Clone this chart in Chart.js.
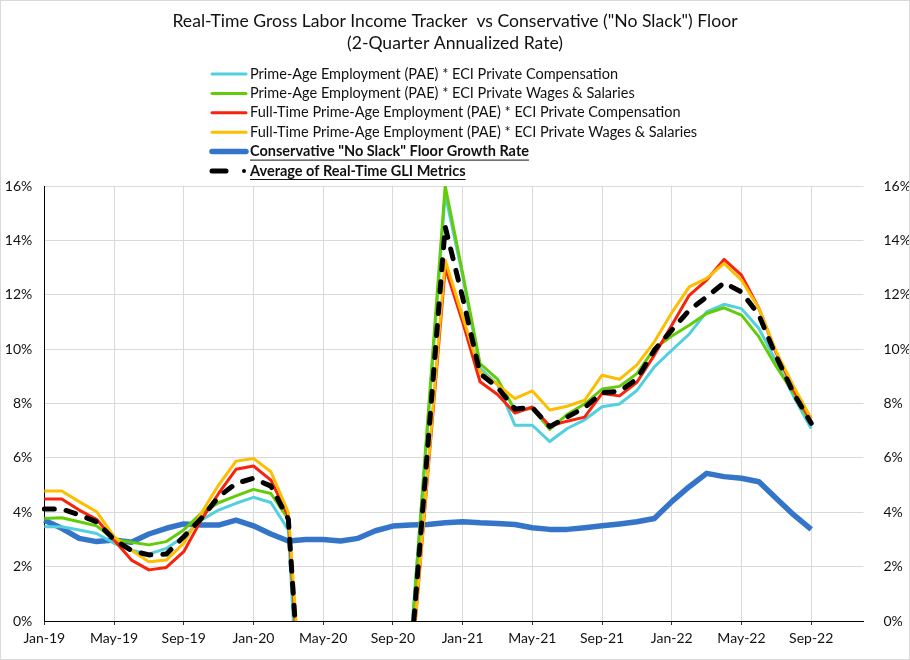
<!DOCTYPE html>
<html>
<head>
<meta charset="utf-8">
<script src="https://cdn.jsdelivr.net/npm/chart.js"></script>
<style>
  body { margin: 0; background: #fff; }
  #wrap { position: absolute; left: 0; top: 0; width: 908px; height: 658px; border: 1px solid #d9d9d9; }
  canvas { display: block; }
</style>
</head>
<body>
<div id="wrap"><canvas id="chart" width="908" height="658"></canvas></div>
<script>
// month labels Jan-19 .. Dec-22 (axis runs 3 months past the last point)
const months = ["Jan","Feb","Mar","Apr","May","Jun","Jul","Aug","Sep","Oct","Nov","Dec"];
const years = ["19","20","21","22"];
const labels = [];
years.forEach(y => months.forEach(m => labels.push(m + "-" + y)));

const titleLines = ['Real-Time Gross Labor Income Tracker  vs Conservative ("No Slack") Floor', '(2-Quarter Annualized Rate)'];

// values in % (Apr-20 .. Oct-20 fall below the axis)
const paeComp = [3.47,3.47,3.35,3.22,2.86,2.60,2.46,2.67,3.10,3.71,4.08,4.33,4.55,4.36,3.35,-8.3,
  null,null,null,null,null,-1.0,7.2,15.7,12.7,9.3,8.7,7.2,7.2,6.6,7.08,7.4,7.88,7.98,8.48,9.35,
  9.96,10.55,11.37,11.65,11.49,10.76,9.53,8.25,7.08];
const paeWages = [3.77,3.80,3.65,3.50,3.00,2.90,2.80,2.92,3.35,3.96,4.35,4.60,4.84,4.69,3.75,-6.5,
  null,null,null,null,null,-1.2,7.4,16.0,12.8,9.47,8.9,7.76,7.82,7.05,7.6,7.98,8.53,8.63,9.1,10.02,
  10.48,10.88,11.31,11.52,11.25,10.45,9.35,8.37,7.25];
const ftComp = [4.49,4.49,4.08,3.74,2.98,2.24,1.88,1.97,2.55,3.71,4.69,5.58,5.70,5.18,3.85,-6.0,
  null,null,null,null,null,-2.2,5.4,13.0,11.0,8.8,8.33,7.65,7.87,7.17,7.35,7.5,8.37,8.28,8.78,9.78,
  10.88,11.98,12.54,13.3,12.72,11.5,9.84,8.49,7.33];
const ftWages = [4.78,4.78,4.39,4.02,3.10,2.60,2.18,2.24,2.86,3.96,5.00,5.88,5.98,5.49,4.00,-5.0,
  null,null,null,null,null,-2.2,5.5,13.27,11.2,9.17,8.7,8.18,8.46,7.76,7.9,8.12,9.04,8.89,9.42,10.27,
  11.34,12.29,12.6,13.15,12.54,11.5,9.9,8.62,7.45];
const floorRate = [3.71,3.41,3.04,2.92,2.98,2.90,3.20,3.41,3.57,3.53,3.53,3.71,3.50,3.20,2.94,3.00,
  3.00,2.94,3.04,3.32,3.49,3.53,3.55,3.61,3.65,3.61,3.59,3.55,3.43,3.37,3.37,3.43,3.50,3.57,3.65,3.77,
  4.39,4.94,5.43,5.31,5.25,5.12,4.51,3.90,3.37];
const avgGli = [4.12,4.12,3.90,3.65,3.00,2.59,2.43,2.46,3.10,3.77,4.57,5.06,5.25,4.96,3.75,-6.0,
  null,null,null,null,null,-1.6,6.4,14.5,11.9,9.1,8.6,7.8,7.85,7.15,7.5,7.85,8.4,8.45,8.9,9.96,
  10.7,11.43,11.92,12.44,12.1,11.25,9.72,8.37,7.27];

const yTicks = [0,2,4,6,8,10,12,14,16];

const FONT = "Lato, 'Liberation Sans', sans-serif";

const legendItems = [
  {text:"Prime-Age Employment (PAE) * ECI Private Compensation", color:"#52d0de", width:3},
  {text:"Prime-Age Employment (PAE) * ECI Private Wages & Salaries", color:"#62cc0a", width:3},
  {text:"Full-Time Prime-Age Employment (PAE) * ECI Private Compensation", color:"#f8230c", width:3},
  {text:"Full-Time Prime-Age Employment (PAE) * ECI Private Wages & Salaries", color:"#fdbd00", width:3},
  {text:'Conservative "No Slack" Floor Growth Rate', color:"#3575c9", width:5.5, bold:true},
  {text:"Average of Real-Time GLI Metrics", color:"#000", width:5, bold:true, dashed:true}
];

// title + legend drawn by hand (two of the legend rows are bold and underlined)
const headerPlugin = {
  id: "header",
  afterDraw(chart){
    const c = chart.ctx;
    c.save();
    c.fillStyle = "#111";
    c.textAlign = "center";
    c.textBaseline = "middle";
    c.font = "17.6px " + FONT;
    c.fillText(titleLines[0], chart.width/2, 20);
    c.fillText(titleLines[1], chart.width/2, 42);

    c.textAlign = "left";
    legendItems.forEach((it, i) => {
      const y = 73 + i*19.4;
      c.strokeStyle = it.color;
      c.lineWidth = it.width;
      c.lineCap = "round";
      c.beginPath();
      if(it.dashed){
        c.moveTo(211, y); c.lineTo(225, y);
        c.stroke();
        c.fillStyle = "#000";
        c.beginPath(); c.arc(243, y, 2, 0, Math.PI*2); c.fill();
      }else{
        c.moveTo(211, y); c.lineTo(245, y);
        c.stroke();
      }
      c.fillStyle = "#111";
      c.font = (it.bold ? "bold " : "") + "14.5px " + FONT;
      c.fillText(it.text, 249, y);
      if(it.bold){
        const w = c.measureText(it.text).width;
        c.strokeStyle = "#111";
        c.lineWidth = 1;
        c.lineCap = "butt";
        c.beginPath(); c.moveTo(249, y+8.5); c.lineTo(249+w, y+8.5); c.stroke();
      }
    });
    c.restore();
  }
};

function line(label, data, color, width, order, dash){
  return {
    label, data, borderColor: color, backgroundColor: color, borderWidth: width,
    pointRadius: 0, tension: 0, order, yAxisID: "y",
    borderDash: dash || [], borderCapStyle: dash ? "round" : "butt", borderJoinStyle: "round"
  };
}

new Chart(document.getElementById("chart"), {
  type: "line",
  data: {
    labels: labels,
    datasets: [
      line(legendItems[4].text, floorRate, legendItems[4].color, 5.5, 6),
      line(legendItems[0].text, paeComp, legendItems[0].color, 3, 5),
      line(legendItems[1].text, paeWages, legendItems[1].color, 3, 4),
      line(legendItems[2].text, ftComp, legendItems[2].color, 3, 3),
      line(legendItems[3].text, ftWages, legendItems[3].color, 3, 2),
      line(legendItems[5].text, avgGli, "#000", 5, 1, [10, 12])
    ]
  },
  options: {
    responsive: false,
    animation: false,
    events: [],
    layout: { padding: { top: 185, left: 0, right: 0, bottom: 0 } },
    plugins: { legend: { display: false }, title: { display: false }, tooltip: { enabled: false } },
    scales: {
      x: {
        type: "category",
        offset: false,
        grid: {
          color: ctx => ctx.index % 4 === 0 ? "#d9d9d9" : "rgba(0,0,0,0)",
          tickColor: ctx => ctx.index % 4 === 0 ? "#333" : "rgba(0,0,0,0)",
          tickLength: 4
        },
        border: { color: "#000", width: 1 },
        ticks: {
          autoSkip: false, maxRotation: 0, minRotation: 0, padding: 5,
          font: { family: FONT, size: 14 }, color: "#111",
          callback: (v, i) => i % 4 === 0 ? labels[i] : ""
        },
        afterFit: s => { s.height = 38; }
      },
      y: {
        position: "left", min: 0, max: 16,
        afterBuildTicks: s => { s.ticks = yTicks.map(v => ({value: v})); },
        ticks: { padding: 12, font: { family: FONT, size: 14 }, color: "#111", callback: v => v + "%" },
        grid: { color: "#d9d9d9", drawTicks: false },
        border: { color: "#000", width: 1 },
        afterFit: s => { s.width = 43.3; }
      },
      y2: {
        position: "right", min: 0, max: 16,
        afterBuildTicks: s => { s.ticks = yTicks.map(v => ({value: v})); },
        ticks: { padding: 12, font: { family: FONT, size: 14 }, color: "#111", callback: v => v + "%" },
        grid: { display: false },
        border: { display: false },
        afterFit: s => { s.width = 45.5; }
      }
    }
  },
  plugins: [headerPlugin]
});
</script>
</body>
</html>
